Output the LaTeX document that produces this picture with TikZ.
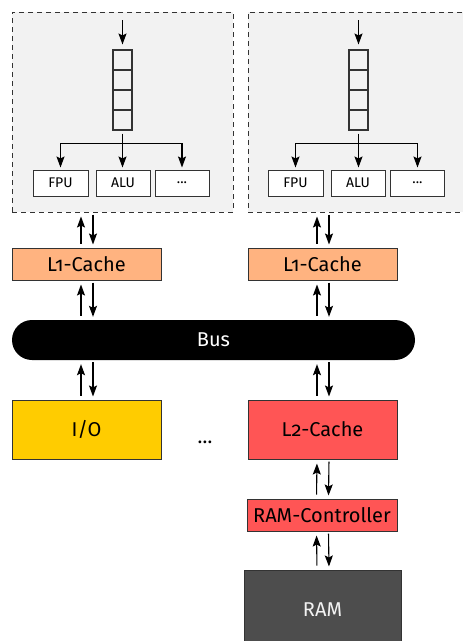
\documentclass[tikz,border=0pt]{standalone}
\usepackage{fontspec}
\setmainfont{Fira Sans}[Numbers=OldStyle]
\usetikzlibrary{arrows.meta,calc}
\definecolor{boxgray}{HTML}{F2F2F2}
\definecolor{lone}{HTML}{FFB380}
\definecolor{iocol}{HTML}{FFCC00}
\definecolor{ltwo}{HTML}{FF5555}
\definecolor{ramcol}{HTML}{4D4D4D}
\definecolor{edge}{HTML}{333333}
\tikzset{
  arr/.style={line width=1.1pt,black,-{Stealth[length=11pt,width=8pt,inset=2pt]}},
  core/.style={draw=edge,dash pattern=on 5pt off 4pt,line width=1pt,fill=boxgray,rectangle,inner sep=0pt},
  cell/.style={draw=edge,line width=1.1pt,minimum width=19pt,minimum height=20pt,inner sep=0pt},
  unit/.style={draw=edge,line width=1pt,fill=white,minimum height=26pt,inner sep=0pt,font=\fontsize{14}{16}\selectfont},
  blk/.style={draw=edge,line width=1pt,inner sep=0pt,font=\fontsize{20}{24}\selectfont},
}
\newcommand\updown[2]{%
  \draw[arr,shorten <=4pt,shorten >=4pt] ([xshift=-5.5pt]#2) -- ([xshift=-5.5pt]#1);
  \draw[arr,shorten <=2pt,shorten >=3pt] ([xshift=6.5pt]#1) -- ([xshift=6.5pt]#2);
}
\begin{document}
\begin{tikzpicture}[x=1pt,y=-1pt]
\clip (0,0) rectangle (463,641);
\useasboundingbox (0,0) rectangle (463,641);
% core boxes
\node[core,minimum width=221pt,minimum height=200pt] (coreL) at (122.5,112) {};
\node[core,minimum width=232pt,minimum height=200pt] (coreR) at (364,112) {};
% queues and units
\foreach \s/\qx/\fx/\ax/\dx in {L/122.5/60.5/123/182, R/358.5/295.5/358/417.5}{
  \node[cell] (q1\s) at (\qx,60) {};
  \node[cell] (q2\s) at (\qx,80) {};
  \node[cell] (q3\s) at (\qx,100) {};
  \node[cell] (q4\s) at (\qx,120) {};
  \coordinate (in\s) at (\qx,20);
  \node[unit,minimum width=55pt] (fpu\s) at (\fx,183) {FPU};
  \node[unit,minimum width=54pt] (alu\s) at (\ax,183) {ALU};
  \node[unit,minimum width=54pt] (dots\s) at (\dx,183) {...};
  \draw[arr,shorten >=5pt] (in\s) -- (q1\s.north);
  \draw[arr,shorten <=3pt,shorten >=2pt] (q4\s.south) -- (q4\s.south |- alu\s.north);
  \draw[arr,shorten >=2pt] ($(q4\s.south)+(0,13)$) -| (fpu\s.north);
  \draw[arr,shorten >=2pt] ($(q4\s.south)+(0,13)$) -| (dots\s.north);
}
% blocks
\node[blk,fill=lone,minimum width=149pt,minimum height=32pt] (l1L) at (86.5,264) {L1-Cache};
\node[blk,fill=lone,minimum width=149pt,minimum height=32pt] (l1R) at (322.5,264) {L1-Cache};
\node[fill=black,rounded corners=20pt,minimum width=403pt,minimum height=40pt,inner sep=0pt,text=white,font=\fontsize{20}{24}\selectfont] (bus) at (213.5,340) {Bus};
\node[blk,fill=iocol,minimum width=149pt,minimum height=59pt] (io) at (86.5,429.5) {I/O};
\node[blk,fill=ltwo,minimum width=149pt,minimum height=59pt] (l2) at (322.5,429.5) {L2-Cache};
\node[font=\fontsize{20}{24}\selectfont,anchor=base] (more) at (205,443) {\dots};
\node[blk,fill=ltwo,minimum width=150pt,minimum height=32pt] (ramc) at (322,515) {RAM-Controller};
\node[blk,fill=ramcol,text=boxgray,minimum width=157pt,minimum height=80pt] (ram) at (322.5,610) {RAM};
% connections
\coordinate (aL) at (coreL.south -| l1L);
\coordinate (aR) at (coreR.south -| l1R);
\updown{aL}{l1L.north}
\updown{aR}{l1R.north}
\coordinate (bL) at (bus.north -| l1L);
\coordinate (bR) at (bus.north -| l1R);
\updown{l1L.south}{bL}
\updown{l1R.south}{bR}
\coordinate (cL) at (bus.south -| io);
\coordinate (cR) at (bus.south -| l2);
\updown{cL}{io.north}
\updown{cR}{l2.north}
\updown{l2.south}{ramc.north}
\updown{ramc.south}{ram.north}
\end{tikzpicture}
\end{document}
